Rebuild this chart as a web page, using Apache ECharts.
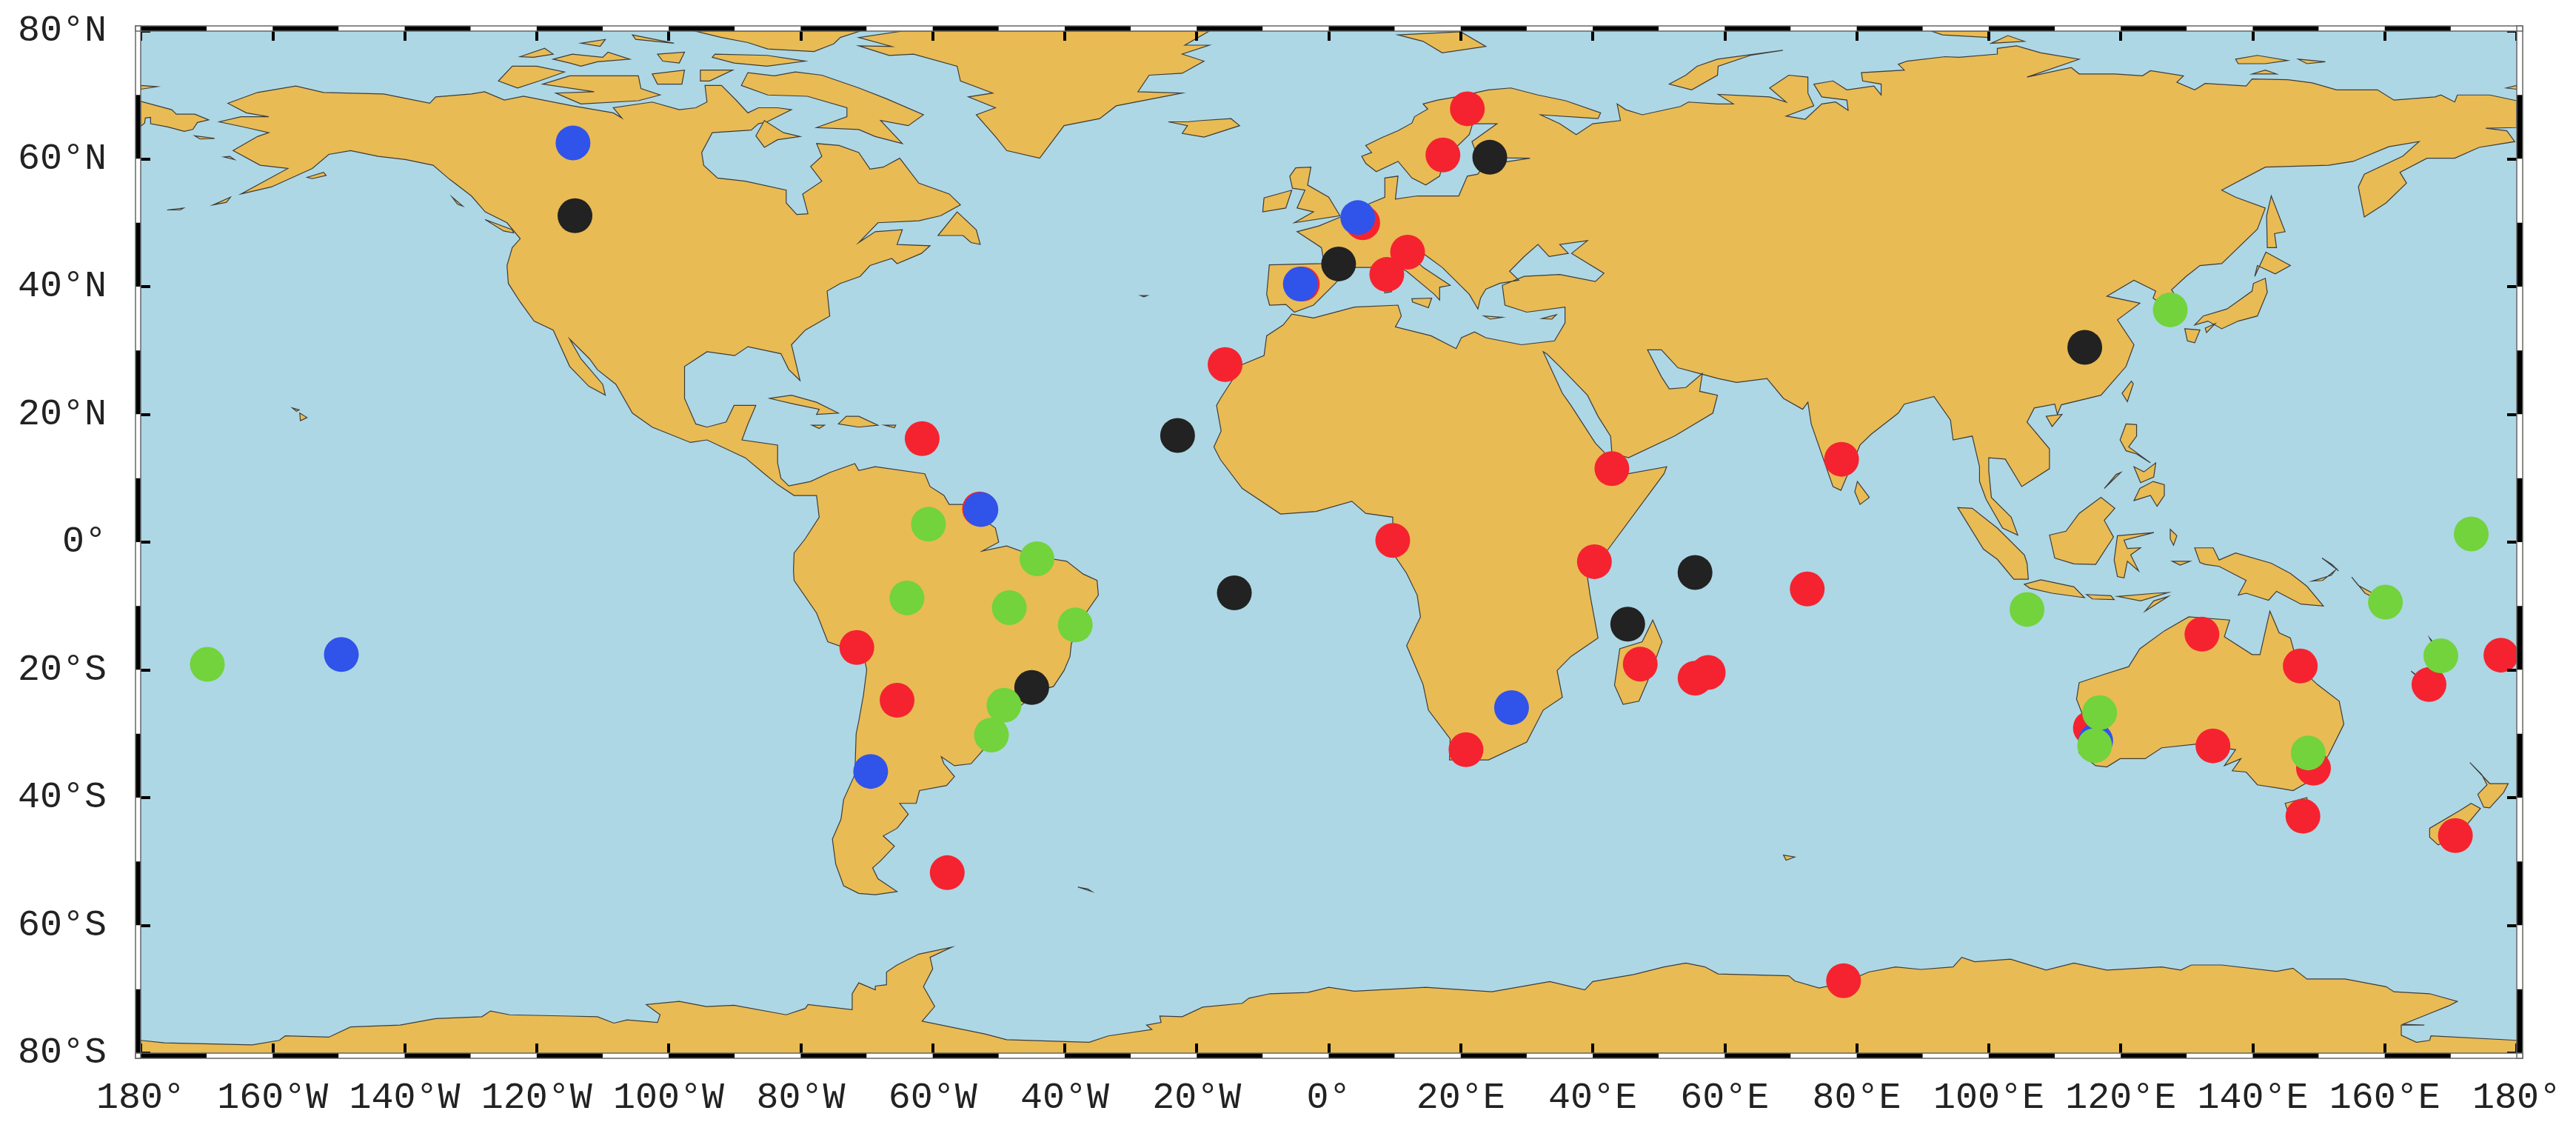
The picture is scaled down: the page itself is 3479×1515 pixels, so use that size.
<!DOCTYPE html>
<html>
<head>
<meta charset="utf-8">
<style>
  html, body { margin: 0; padding: 0; background: #fff; }
  #main { width: 3479px; height: 1515px; }
</style>
<script src="https://cdn.jsdelivr.net/npm/echarts@6/dist/echarts.min.js"></script>
</head>
<body>
<div id="main"></div>
<script>
// site positions [lon, lat]
const redSites = [[21.0,67.84],[17.3,60.6],[5.15,50.0],[11.95,45.4],[8.8,41.9],[-4.0,40.4],[-15.7,27.8],[-61.6,16.2],[42.9,11.5],[-52.9,5.2],[9.7,0.27],[-71.5,-16.5],[-65.4,-24.76],[-57.8,-51.75],[20.8,-32.5],[40.25,-3.06],[47.2,-19.1],[55.5,-21.3],[57.5,-20.4],[77.7,12.97],[72.5,-7.34],[132.3,-14.42],[147.2,-19.4],[177.6,-17.7],[166.7,-22.3],[115.4,-29.1],[133.97,-31.9],[149.2,-35.4],[147.6,-42.9],[170.7,-45.95],[78.0,-68.66]]
const blueSites = [[-114.5,62.5],[4.4,50.8],[-4.3,40.4],[-52.7,5.1],[-69.4,-35.9],[27.7,-25.9],[116.2,-31.1],[-149.6,-17.6]]
const blackSites = [[-114.2,51.1],[24.4,60.25],[1.5,43.55],[-22.9,16.7],[-14.3,-7.95],[-45,-22.76],[55.5,-4.75],[45.3,-12.85],[114.55,30.5]]
const greenSites = [[-60.65,2.8],[-44.2,-2.6],[-63.9,-8.74],[-48.4,-10.26],[-38.4,-12.96],[-49.2,-25.54],[-51.1,-30.2],[127.5,36.36],[173.1,1.28],[105.8,-10.54],[160.1,-9.4],[168.5,-17.8],[116.8,-26.7],[116.05,-31.85],[148.4,-33.0],[-169.9,-19.14]]

const lonBands = [-180,-170,-160,-150,-140,-130,-120,-110,-100,-90,-80,-70,-60,-50,-40,-30,-20,-10,0,10,20,30,40,50,60,70,80,90,100,110,120,130,140,150,160,170]
const latBands = [70,60,50,40,30,20,10,0,-10,-20,-30,-40,-50,-60,-70,-80]

// coastlines, [lon, lat]
const americas = [[-166.8,68.7],[-162.3,70.4],[-156.5,71.4],[-152.3,70.4],[-143.2,70.15],[-136.2,68.7],[-135.3,69.7],[-129.9,70.15],[-127.9,70.5],[-124.9,69.2],[-122,69.8],[-114.6,68.3],[-108.4,67.2],[-107.1,66.4],[-108.4,68],[-102.5,68.9],[-98.4,67.7],[-95.9,68],[-94.2,68.9],[-94.5,71.5],[-92,71.5],[-89.7,69.1],[-88,67.2],[-86.4,68],[-83.5,68],[-81.4,67.7],[-85.1,65.8],[-86.4,65.5],[-87.5,64.5],[-93.4,64.1],[-95,61],[-94.7,59],[-92.6,57],[-88.4,56.5],[-82.2,55.1],[-82.2,53.1],[-80.6,51.3],[-78.9,51.4],[-79.7,54.5],[-76.8,56.5],[-78.5,58.8],[-76.8,60.4],[-77.6,62.4],[-74.2,62.1],[-71.2,61],[-69.5,58.4],[-67.5,58.7],[-65,60.1],[-62.1,56.2],[-57.5,54.5],[-55.8,52.8],[-58.8,51.1],[-62.1,50.3],[-68.3,50],[-71.2,46.9],[-68.7,48.6],[-64.6,48.9],[-65.4,46.6],[-60.4,46.4],[-61.7,45.2],[-65.4,43.6],[-66.2,44.4],[-69.5,43.3],[-71,41.6],[-74,40.5],[-76,39.3],[-75.6,35.4],[-79.3,33.2],[-81.4,30.9],[-80.1,25.3],[-81.8,27],[-83,29.5],[-88,30.6],[-90,29.2],[-94.2,29.8],[-97.6,27.5],[-97.6,22.5],[-95.9,18.5],[-94.2,18],[-91.3,18.8],[-90.1,21.4],[-86.8,21.4],[-88,18.5],[-88.9,16],[-83.5,15.2],[-83.5,12.4],[-83,10],[-81.8,8.8],[-78.5,9.5],[-75.6,10.9],[-71.8,12.3],[-71.2,11.2],[-68.7,11.8],[-61.2,10.7],[-60.4,8.7],[-58.3,7.3],[-57.5,5.9],[-55.4,5.9],[-50.5,2.2],[-50,0],[-52.5,-1.4],[-48.8,-0.6],[-44.5,-2.2],[-39.7,-3],[-37.2,-5],[-35.1,-6],[-34.9,-8.3],[-36.8,-11.1],[-39,-15.9],[-39.2,-17.9],[-40.1,-20.1],[-41.7,-22.6],[-43.8,-23.2],[-48.8,-27.4],[-52.5,-32.7],[-54.2,-34.7],[-56.7,-35],[-58.7,-33.6],[-58.3,-34.7],[-56.7,-36.7],[-57.9,-38.1],[-62,-38.9],[-62.5,-40.9],[-65,-40.9],[-63.7,-42.6],[-65.4,-44.8],[-67.5,-46],[-65.8,-47.6],[-67.9,-49.9],[-69.1,-51],[-68.3,-52.7],[-65.4,-54.7],[-68.7,-55.2],[-71.2,-55],[-73.5,-53.8],[-74.7,-50.4],[-75.2,-46.5],[-73.9,-43.4],[-73.5,-40.3],[-71.8,-36.4],[-71.6,-30],[-71.2,-28],[-70.5,-24],[-70,-20],[-70.4,-18],[-71.5,-17.2],[-75.9,-15.6],[-77.6,-11.1],[-81,-6],[-81.1,-4.4],[-81,-1.7],[-79.3,0.55],[-77.2,3.9],[-77.6,7.3],[-81,7.3],[-83.5,9],[-85.5,10.7],[-88.4,13.2],[-94.2,16],[-96.7,15.6],[-102.5,18],[-105.5,20.2],[-108,24.7],[-110.8,27],[-112,28.7],[-115,31.8],[-113.3,28.7],[-110,24.7],[-109.6,23],[-112.1,24.4],[-115,27.5],[-117.5,33.2],[-120.4,34.6],[-122.5,37.6],[-124.3,40.5],[-124.5,43.3],[-123.7,46.1],[-122.5,47.5],[-124.5,50],[-127.8,51.7],[-129.9,54.2],[-133.2,56.8],[-135.7,59],[-139.9,59.9],[-144,60.4],[-148.2,61.3],[-151.5,60.7],[-154,58.5],[-160.2,55.6],[-164.8,54.5],[-157.7,58.5],[-161.9,59],[-166,61.3],[-162.3,63.5],[-160.6,64.1],[-164,64.9],[-168.1,65.8],[-164.8,66.6],[-160.6,66.6],[-164,67.2]]
const afroEurasia = [[180,69.1],[175.9,70],[171,70],[170.6,68.9],[168.5,70],[167.6,69.7],[161.4,69.2],[158.9,70.8],[152.7,70.8],[149,71.9],[145.3,72.4],[139.9,72.5],[139,71.4],[132.8,71.8],[131.2,70.8],[128.5,72],[129.5,73],[124.5,73.8],[123.3,73],[119.1,73.3],[113.7,73.3],[112.5,74.3],[105.8,72.8],[113.7,75.6],[107.9,76.6],[104.2,77.7],[101.3,77.3],[101.3,76.4],[95.5,75.9],[93.4,76],[87.6,75.3],[86.3,74.8],[87.2,73.9],[80.7,73.5],[80.9,72.2],[83.7,71.7],[83.7,70],[82.6,71.4],[78.5,70.8],[76.4,72.2],[73.5,71.7],[74.7,69.7],[78.5,69.2],[78.7,67.6],[76.8,68.9],[74.7,68.6],[72.2,66.2],[69.3,66.7],[73.5,68.3],[72.6,70.3],[72.6,72.8],[69.7,73.1],[66.8,71.1],[69.3,68.9],[66.8,69.7],[59,70.1],[61.3,68.6],[58.9,68.6],[54.5,68.9],[53.3,68.2],[47.5,66.9],[45,67.7],[43.7,68.6],[44.2,66],[40,65.5],[37.5,63.8],[35,65.5],[32.1,66.9],[40.8,66.3],[41.2,67.2],[35.9,69.1],[31.7,70],[27.6,71.1],[24.2,70.8],[19.3,69.7],[16.5,69.2],[14.3,68.6],[15,67.8],[13,66.6],[12.6,65.6],[10.5,64.4],[8,63.3],[5.6,62.1],[6.5,61],[5,60.4],[5.6,59.3],[7.2,58],[10.5,59.6],[12.6,57],[14.7,55.9],[16.8,57.3],[17.5,60],[21.3,63.8],[21.8,65.5],[25.5,65.5],[21.7,62.7],[22.6,60.2],[30.5,60.1],[23.5,59],[22.6,57.6],[21,57.3],[19.7,54.2],[13.4,54.2],[10.1,53.7],[10.5,57.3],[8.5,57],[8.5,54],[6.4,53.1],[1.8,50.9],[-1.5,49.5],[-4.8,48.6],[-1.1,46.1],[-0.7,43.6],[-9,43.4],[-9.4,38.8],[-8.96,37.1],[-6.5,37.2],[-5.2,36],[-2.3,37.1],[1,40.5],[3,43],[6.4,43],[8.8,44.1],[11.8,42.4],[16,38.8],[16.8,37.9],[16.8,39.9],[18.4,40.2],[14.3,43],[12.3,45],[14.3,45.2],[17.2,43],[21.3,38.8],[22.6,36.5],[23,38.2],[23.8,39.6],[25.9,40.5],[28.8,41],[27.4,42.4],[29.6,44.7],[31.7,46.6],[33.4,44.7],[36.3,45.2],[35,46.6],[39.2,47.2],[36.8,45.2],[41.7,42.1],[40.4,40.8],[35,41.9],[29.6,41.6],[26.3,40.2],[26.7,37.1],[30,36],[35.8,36.8],[35.8,34.3],[34.2,31.5],[29.2,30.9],[23.8,32],[22.1,32.9],[20.1,32],[19.3,30.3],[15.5,32.3],[10.1,33.7],[11,35.4],[10.5,37.1],[3.9,36.8],[-2.3,35.1],[-5.6,35.7],[-6.9,34],[-9.4,32.3],[-9.8,29.2],[-13.1,27.8],[-16.4,22.5],[-17,21.4],[-16.3,17.4],[-17.4,14.9],[-16.4,12.9],[-13.1,8.4],[-7.3,4.4],[-1.9,4.8],[3.5,6.4],[5.6,4.5],[9.7,3.9],[9.7,-1.7],[11.8,-4.9],[13.4,-8.3],[13.9,-11.7],[11.8,-16.2],[14.3,-22.3],[15.1,-26.3],[18.4,-30.8],[18.3,-34.1],[24.2,-34.1],[30,-31.3],[32.5,-26.3],[35.4,-24.3],[34.6,-20.1],[36.7,-17.9],[40.8,-15],[39.6,-8.3],[39.2,-5.5],[42.5,-0.9],[50.8,10.7],[51.2,11.8],[45.4,10.7],[43.3,12.4],[40.4,15.5],[39.2,17.4],[36.7,21.4],[35.4,23.3],[32.5,29.8],[33,29.5],[35,27.5],[39.2,23],[40.8,19.7],[42.7,16.6],[42.9,14],[45.4,13.2],[52.4,16.6],[58.2,20.2],[58.9,23],[56.2,23.6],[56.6,26.4],[54.1,24.2],[51.6,24],[50.4,25.9],[48.3,30.1],[50.4,30.1],[52.9,27.3],[56.2,26.4],[59,25.6],[61.8,25],[66.4,25.6],[68.9,22.5],[71.8,20.8],[72.6,21.9],[73.1,18.5],[76.4,8.7],[77.6,8.1],[80.5,15.2],[82.2,16.9],[86.3,20.2],[87.2,21.6],[91.7,22.8],[94.2,19.1],[94.6,16],[97.5,16.6],[98.6,11.8],[98.6,9.5],[99.6,6.7],[102.1,2.2],[104.4,1.1],[103.4,3.9],[100.4,7],[100,11.2],[100,13.2],[102.5,13],[105,8.7],[109.2,11.5],[109.2,14.6],[105.8,18.8],[106.9,21],[110,21.6],[110.4,20],[111,21.5],[117,23],[120.8,27.5],[122,30.9],[119.5,34.8],[122.9,37.4],[117.9,38.5],[122,41],[125.3,39.3],[124.9,38.2],[126.5,37],[126.3,34.7],[127.5,34.6],[129.3,35.3],[129.4,36.8],[127.7,39.5],[129.9,41.6],[132,43.3],[135.3,43.6],[140.7,49],[141.9,52.3],[137.4,54],[135.3,55.1],[141.9,58.7],[151.5,59],[155.2,59.6],[160.6,61.9],[165.2,62.7],[162.7,60.4],[156.9,57.6],[156,55.6],[156.9,50.9],[160.2,53.1],[163.3,56.2],[162.3,57.9],[166.4,60.1],[170.6,60.1],[174.3,61.8],[179.7,62.7],[178.5,64.4],[175.3,64.8],[180,64.9]]
const chukotkaWest = [[-180,69],[-175.3,67.7],[-174.6,67],[-171.8,67],[-169.7,66.1],[-171.4,65.7],[-172.1,64.6],[-173.4,64.3],[-175.9,65],[-178.5,65.5],[-178.5,66.5],[-179.3,66.4],[-179.4,65.6],[-180,65.1]]
const wrangelWest = [[-180,71.5],[-177.5,71.3],[-180,70.9]]
const wrangelEast = [[178.4,71.1],[180,71.5],[180,70.9]]
const greenland = [[-64.6,80],[-71.2,79],[-66.2,77.6],[-71.2,77.7],[-66.6,76.2],[-62.9,76.4],[-56.3,74.5],[-55.8,72.2],[-50.9,70.3],[-54.6,69.7],[-50.5,68],[-53.4,66.9],[-50.5,63.5],[-48.8,61.3],[-43.8,60.1],[-40.1,65.2],[-34.7,66.3],[-32.2,68.3],[-22.2,70.3],[-28.9,70.5],[-27.2,73.1],[-22.2,73.4],[-18.9,75.3],[-22.2,76.4],[-18.1,77.8],[-21.8,77.8],[-18.1,80]]
const iceland = [[-24.3,65.8],[-21.4,65.2],[-22.2,64],[-18.9,63.4],[-13.5,65.2],[-14.8,66.3],[-19.3,66],[-21.4,65.8]]
const baffin = [[-80.8,73.6],[-76.8,73.1],[-71.2,71.1],[-67,69.4],[-61.4,66.9],[-63.7,65.2],[-67.9,66],[-64.6,62.4],[-68.7,63.5],[-71.2,64.6],[-77.6,64.9],[-73,66.6],[-73,68],[-79,69.8],[-85,70],[-89,71.5],[-88,73.5],[-84,73]]
const victoriaIsland = [[-119.1,71.7],[-115,73],[-108.4,73],[-104.6,73],[-104.2,71],[-101.3,70],[-104.6,69.1],[-113.3,68.6],[-117.1,70.3],[-111.3,70.5]]
const banksIsland = [[-125.8,72.2],[-123.7,74.5],[-120,74.5],[-115.8,73.6],[-119.6,72.2],[-122.9,71.1]]
const melvilleIsland = [[-122.5,76],[-118.8,77.3],[-117.5,76.4],[-120.5,75.9]]
const parryIsland = [[-117.5,75.6],[-114.6,76.4],[-110,75.9],[-109.2,76.7],[-105.9,75.6],[-110.8,75.2],[-113.3,74.5],[-115,75]]
const princeOfWales = [[-102.5,73.3],[-97.6,73.9],[-98,71.7],[-101.7,71.7]]
const somerset = [[-95.2,73.9],[-90.3,73.9],[-93.8,72.2],[-95.2,72.2]]
const devon = [[-93,76.4],[-85.1,76.2],[-79.3,75.3],[-85.1,74.5],[-90.1,75],[-93.4,75.9]]
const bathurst = [[-101.7,76.4],[-97.6,76.7],[-98.4,75],[-100.9,75.3]]
const ellesmere = [[-96,80],[-71,80],[-74,79],[-75,78],[-78,76.8],[-85,77.2],[-88,78.2],[-92,79]]
const ellefRingnes = [[-105.5,79.4],[-99.2,78.1],[-105,78.7]]
const princePatrick = [[-113.3,78.1],[-109.6,78.7],[-110.4,77.6]]
const southampton = [[-86.8,63.6],[-85.5,66],[-82.6,64.1],[-80.1,63.5],[-83.5,63],[-85.5,61.8]]
const newfoundland = [[-59.2,48],[-56.3,51.7],[-53.4,48.9],[-52.8,46.6],[-54.2,46.9],[-55.4,48]]
const cuba = [[-84.7,22.5],[-81.4,23],[-77.6,21.9],[-74.3,20.2],[-77.6,20],[-77.2,20.8],[-81,21.6],[-83.5,22.2]]
const hispaniola = [[-74.3,18.5],[-73.1,19.7],[-71.2,19.7],[-68.3,18.3],[-71.2,18]]
const jamaica = [[-78.3,18.3],[-76.4,18.3],[-77.2,17.8]]
const puertoRico = [[-67.3,18.3],[-65.6,18.3],[-65.8,17.9]]
const hawaii = [[-155.9,20.2],[-154.8,19.5],[-155.8,19]]
const maui = [[-157,21],[-156,20.7],[-156.4,20.5]]
const vancouverIsland = [[-127.8,50.5],[-123.7,48.9],[-123.5,48.4],[-125,48.7]]
const haidaGwaii = [[-132.8,54],[-131.2,52.6],[-132,52.9]]
const kodiak = [[-154.8,57.1],[-152.3,57.9],[-151.9,57.4],[-154,56.9]]
const aleutianA = [[-169,52.8],[-166.4,54],[-167,53.2]]
const aleutianB = [[-176,52],[-173.5,52.3],[-174,52]]
const stLawrence = [[-171.8,63.6],[-168.8,63.2],[-171,63.1]]
const nunivak = [[-167.4,60.3],[-165.8,59.9],[-166.5,60.4]]
const greatBritain = [[-5.9,57.3],[-5,58.6],[-2.7,58.7],[-3.2,55.9],[0,54],[1.7,51.1],[-5.2,50],[-2.3,51.7],[-4.8,52.3],[-3.6,55.1],[-5.5,55.4]]
const ireland = [[-10,51.7],[-9.8,53.9],[-5.6,55.1],[-6.5,52.3]]
const sardinia = [[8.3,41],[9.7,41],[9.5,39.2],[8.5,39]]
const sicily = [[12.6,38.1],[15.6,38.2],[15.1,36.7],[12.7,37.6]]
const crete = [[23.5,35.4],[26.3,35.2],[24.5,34.9]]
const cyprus = [[32.3,35],[34.5,35.6],[33.8,34.9]]
const svalbard = [[10.5,79.4],[20,79.9],[23.8,77.6],[17.2,76.6],[14.3,78.4]]
const novayaZemlya = [[51.6,71.7],[54.1,73.1],[55.8,74.5],[58.9,75.6],[68.8,77],[63.9,76.2],[59,74.5],[58.9,73.1],[55,70.8]]
const severnayaA = [[91.3,80],[100,80],[100,79],[93,79.4]]
const severnayaB = [[100.4,78.1],[102.9,79.3],[105.4,78.4]]
const newSiberianA = [[137.4,75.6],[140.7,76.2],[145.3,75.4],[141.9,74.9],[137.8,74.9]]
const newSiberianB = [[146.9,75.6],[151,75.2],[148.2,74.9]]
const lyakhov = [[139.9,73.3],[143.6,73.3],[141.9,73.9]]
const sakhalin = [[142.8,54.2],[144.9,48.6],[143.3,48.3],[143.6,46.1],[142.2,46.1],[142.1,51.1]]
const hokkaido = [[142,45.4],[145.7,43.3],[143.4,42],[140.7,43.3],[140.3,41.6]]
const honshu = [[140.1,40.5],[141.9,41.3],[142.2,39.1],[140.7,35.4],[137.8,34.6],[135.3,33.4],[133.2,34.6],[131.2,34],[132.5,35.4],[136.1,36.5],[139.9,39.3]]
const shikoku = [[132.8,33.5],[134.3,34.2],[133,32.8]]
const kyushu = [[129.7,33.4],[132,33.2],[131.2,31.2],[130.1,31.5]]
const taiwan = [[121.6,25.2],[121.9,24.8],[121,22],[120.2,23.3]]
const hainan = [[108.7,19.7],[111.1,20],[109.6,18.1]]
const sriLanka = [[80.1,9.5],[81.9,7],[80.5,5.9],[79.7,7.9]]
const luzon = [[120.8,18.5],[122.4,18.4],[122.4,16.6],[121.2,14.9],[124.5,12.4],[122.4,13.8],[120.8,14.3],[119.9,16]]
const mindanao = [[124.9,9.5],[126.6,9],[126.6,7.3],[125.5,5.6],[124.5,7.3],[122,6.5],[122.9,8.4]]
const visayas = [[122,11.8],[123.5,11],[125.3,12.4],[125,10.2],[123,9.3]]
const palawan = [[117.5,8.4],[120,10.9],[119.3,10.6]]
const borneo = [[109.2,1.1],[111.7,1.7],[113.7,4.5],[117,7],[119.1,5.3],[117.5,3.4],[118.9,0.8],[116.2,-3.5],[112.9,-3.4],[110,-2.5]]
const sumatra = [[95.3,5.4],[97.5,5.3],[101.3,2.2],[105.4,-2],[105.8,-3.3],[106,-5.8],[103.8,-5.8],[101.3,-2.7],[99.2,-1.1]]
const java = [[105.4,-6.6],[107.9,-5.9],[112.9,-7],[114.5,-8.7],[109.6,-8],[106.2,-7.2]]
const sundaA = [[114.8,-8.2],[118.5,-8.4],[119,-9],[115.7,-8.9]]
const sundaB = [[119.5,-8.5],[125.3,-8],[127.2,-7.9],[123,-9.2]]
const timor = [[123.7,-10.8],[127.2,-8.5],[125,-9.2]]
const sulawesi = [[119.5,1],[125,1.5],[120.5,0.3],[121,-1],[123,-0.9],[121.5,-2],[122.7,-4.5],[121,-3],[120.5,-5.6],[119.5,-5.4],[119,-2.8]]
const halmahera = [[127.5,2],[128.5,1],[128,-0.5],[127.5,0.5]]
const seram = [[127.8,-3],[130.5,-3],[129,-3.6]]
const newGuinea = [[131.2,-0.9],[134,-0.9],[134.9,-2.8],[137.4,-1.7],[142.8,-3.3],[145.7,-4.9],[148.2,-6.9],[150.7,-10],[147.3,-9.7],[143.6,-7.7],[142.4,-9.1],[139,-8],[137.8,-8.3],[139,-6],[134.9,-3.8],[132.8,-3.5],[132,-3.2]]
const newBritain = [[149,-6.1],[151.9,-5.2],[152.5,-4.4],[150.6,-6]]
const newIreland = [[150.5,-2.5],[153,-4.5],[152,-3.5]]
const solomon = [[155,-5.5],[156,-6.8],[160,-9],[161,-10],[157,-8]]
const vanuatu = [[166.8,-15],[167.5,-16.5],[167.2,-15.5]]
const newCaledonia = [[164,-20.2],[167,-22.5],[166,-22]]
const fiji = [[177.5,-17.5],[178.5,-18],[177.5,-18.2]]
const australia = [[113.7,-22],[117.5,-20.7],[121.2,-19.5],[122.9,-16.7],[126.6,-13.9],[130.3,-11.7],[136.5,-12.2],[135.7,-14.8],[139.9,-17.6],[141.1,-17.6],[142.6,-10.8],[144,-14.2],[145.7,-15],[146.9,-19.5],[149.8,-22.3],[153.1,-24.9],[153.8,-28.5],[151.5,-33.3],[149,-37.2],[146.1,-38.9],[144.4,-38.6],[140.7,-38],[139,-36],[136.9,-35.8],[138.2,-33.9],[135.7,-35],[137.4,-32.5],[131.6,-31.6],[126.2,-32.2],[123.7,-33.9],[119.9,-33.9],[117.9,-35.2],[116.2,-35],[113.7,-33],[114.6,-28],[113.3,-24.6]]
const tasmania = [[144.9,-40.9],[148.2,-40],[148.6,-43.1],[146.1,-44.3]]
const nzNorth = [[172.9,-34.5],[175.9,-37.8],[178.7,-37.8],[178,-39.2],[175.9,-41.6],[175,-41.5],[174.1,-39.5],[175.5,-38],[174.7,-36.4]]
const nzSouth = [[173.1,-40.9],[174.5,-41.7],[171,-46],[168.1,-47.4],[166.8,-46.2],[166.8,-44.8],[171.4,-42]]
const madagascar = [[49.1,-12.2],[50.5,-15.6],[48.3,-21.8],[47,-24.9],[44.6,-25.4],[43.3,-22.4],[44.1,-16.7],[47.5,-15.6]]
const southGeorgia = [[-38,-54],[-35.9,-54.7],[-36.5,-54.3]]
const kerguelen = [[68.9,-49],[70.6,-49.3],[69.3,-49.8]]
const azores = [[-28.5,38.6],[-27.5,38.6],[-28,38.4]]
const antarctica = [[-180,-78],[-176.4,-78.4],[-163.1,-78.7],[-159,-78],[-158.1,-77.3],[-151.5,-77.5],[-148.2,-75.9],[-140.7,-75.6],[-135.3,-74.6],[-128.3,-74.3],[-127,-73.4],[-124.1,-74],[-115,-74.2],[-110.8,-74.3],[-108.3,-75.3],[-106.3,-74.8],[-101.7,-75.2],[-101.3,-74],[-103.4,-72.4],[-98.4,-71.9],[-94.3,-72.7],[-90.1,-72.5],[-82.2,-74],[-79.3,-73],[-78.9,-72.4],[-72.2,-73.2],[-72.2,-70.7],[-71.2,-69],[-68.7,-70.1],[-68.7,-69.5],[-67,-69.3],[-67,-67.3],[-65.4,-66.2],[-62.1,-64.5],[-57.1,-63.4],[-60.4,-65],[-60,-66.8],[-61.4,-69.6],[-59.7,-72.7],[-61.6,-75],[-52.1,-77],[-48.8,-77.9],[-36.3,-78.3],[-33.4,-77.3],[-26.8,-76.3],[-27.6,-75.6],[-25.4,-75.2],[-25.6,-74.2],[-22.2,-74.3],[-19.1,-72.8],[-13.1,-72.2],[-12.1,-71.4],[-8.9,-70.7],[-3.2,-70.5],[0,-69.7],[3.9,-70.3],[14.7,-69.7],[24.7,-70.4],[33.5,-68.8],[38.8,-70.1],[40,-68.8],[46.2,-67.7],[50.8,-66.5],[54.1,-65.9],[57,-66.5],[59,-67.6],[69.7,-67.9],[70.6,-68.7],[74.3,-69.8],[78,-69],[81.8,-67.3],[85.9,-66.5],[89.7,-66.9],[94.6,-66.5],[95.9,-65],[97.9,-65.7],[103.3,-65.3],[108.7,-67],[112.9,-65.9],[117.9,-67],[126.2,-66.5],[129.1,-67],[130.7,-66.2],[135.3,-66.2],[143.6,-67.2],[146.1,-66.7],[148.2,-68.4],[154,-68.4],[160.2,-69.6],[161.4,-70.4],[166.8,-70.7],[171,-71.9],[169.7,-72.6],[166.8,-73.8],[162.7,-75.5],[166,-75.6],[162.5,-75.6],[162.5,-77.2],[164.8,-78.3],[166.8,-78],[167,-77.3],[180,-78],[180,-81],[-180,-81]]

const landPolygons = [americas, afroEurasia, chukotkaWest, wrangelWest, wrangelEast, greenland, iceland, baffin, victoriaIsland, banksIsland, melvilleIsland, parryIsland, princeOfWales, somerset, devon, bathurst, ellesmere, ellefRingnes, princePatrick, southampton, newfoundland, cuba, hispaniola, jamaica, puertoRico, hawaii, maui, vancouverIsland, haidaGwaii, kodiak, aleutianA, aleutianB, stLawrence, nunivak, greatBritain, ireland, sardinia, sicily, crete, cyprus, svalbard, novayaZemlya, severnayaA, severnayaB, newSiberianA, newSiberianB, lyakhov, sakhalin, hokkaido, honshu, shikoku, kyushu, taiwan, hainan, sriLanka, luzon, mindanao, visayas, palawan, borneo, sumatra, java, sundaA, sundaB, timor, sulawesi, halmahera, seram, newGuinea, newBritain, newIreland, solomon, vanuatu, newCaledonia, fiji, australia, tasmania, nzNorth, nzSouth, madagascar, southGeorgia, kerguelen, azores, antarctica]

const myChart = echarts.init(document.getElementById('main'))

function lonLabel(v) {
  if (v === 0 || Math.abs(v) === 180) return Math.abs(v) + '°'
  return Math.abs(v) + '°' + (v < 0 ? 'W' : 'E')
}
function latLabel(v) {
  if (v === 0) return '0°'
  return Math.abs(v) + '°' + (v < 0 ? 'S' : 'N')
}

const tickLine = { show: true, inside: true, length: 13, lineStyle: { color: '#000', width: 4 } }
const labelFont = { fontFamily: 'Liberation Mono', fontSize: 50, color: '#222', lineHeight: 50 }

function lonAxis(position, showLabel) {
  return {
    type: 'value', position, min: -180, max: 180, interval: 20, z: 5,
    axisLine: { show: false, onZero: false }, splitLine: { show: false }, axisTick: tickLine,
    axisLabel: { show: showLabel, margin: 36, formatter: lonLabel, showMinLabel: true, showMaxLabel: true, ...labelFont }
  }
}
function latAxis(position, showLabel) {
  return {
    type: 'value', position, min: -80, max: 80, interval: 20, z: 5,
    axisLine: { show: false, onZero: false }, splitLine: { show: false }, axisTick: tickLine,
    axisLabel: { show: showLabel, margin: 46, formatter: latLabel, showMinLabel: true, showMaxLabel: true, ...labelFont }
  }
}

// the checkered frame sits outside the plot area
const frameWidth = 7
function bandColor(index, firstBlack) {
  return (index % 2 === 0) === firstBlack ? '#000' : '#fff'
}
function renderLonBand(params, api) {
  const a = api.coord([api.value(0), 80])
  const b = api.coord([api.value(0) + 10, -80])
  const fill = bandColor(params.dataIndex, true)
  return {
    type: 'group',
    children: [
      { type: 'rect', shape: { x: a[0], y: a[1] - frameWidth, width: b[0] - a[0], height: frameWidth }, style: { fill } },
      { type: 'rect', shape: { x: a[0], y: b[1], width: b[0] - a[0], height: frameWidth }, style: { fill } }
    ]
  }
}
function renderLatBand(params, api) {
  const a = api.coord([-180, api.value(1) + 10])
  const b = api.coord([180, api.value(1)])
  const fill = bandColor(params.dataIndex, false)
  return {
    type: 'group',
    children: [
      { type: 'rect', shape: { x: a[0] - frameWidth, y: a[1], width: frameWidth, height: b[1] - a[1] }, style: { fill } },
      { type: 'rect', shape: { x: b[0], y: a[1], width: frameWidth + 1, height: b[1] - a[1] }, style: { fill } }
    ]
  }
}
function renderOutline(params, api) {
  const a = api.coord([-180, 80])
  const b = api.coord([180, -80])
  const stroke = '#666'
  const box = (x, y, w, h, fill) => ({ type: 'rect', shape: { x, y, width: w, height: h }, style: { fill, stroke, lineWidth: 1.5 } })
  return {
    type: 'group',
    children: [
      box(a[0] - frameWidth, a[1] - frameWidth, b[0] - a[0] + 2 * frameWidth + 1, b[1] - a[1] + 2 * frameWidth, 'transparent'),
      box(a[0], a[1], b[0] - a[0], b[1] - a[1], 'transparent'),
      box(a[0] - frameWidth, a[1] - frameWidth, frameWidth, frameWidth, '#fff'),
      box(b[0], a[1] - frameWidth, frameWidth + 1, frameWidth, '#fff'),
      box(a[0] - frameWidth, b[1], frameWidth, frameWidth, '#fff'),
      box(b[0], b[1], frameWidth + 1, frameWidth, '#fff')
    ]
  }
}
function renderLand(params, api) {
  const points = landPolygons[params.dataIndex].map(p => api.coord(p))
  return {
    type: 'polygon',
    shape: { points },
    style: { fill: '#e9bb54', stroke: '#3c3c3c', lineWidth: 1.2 }
  }
}
function sites(name, data, color, z) {
  return { name, type: 'scatter', data, symbol: 'circle', symbolSize: 47, itemStyle: { color, opacity: 1 }, z, silent: true }
}

myChart.setOption({
  animation: false,
  backgroundColor: '#fff',
  grid: { left: 190, right: 80, top: 42, bottom: 93, show: true, backgroundColor: '#add7e5', borderWidth: 0 },
  xAxis: [lonAxis('bottom', true), lonAxis('top', false)],
  yAxis: [latAxis('left', true), latAxis('right', false)],
  series: [
    { name: 'land', type: 'custom', renderItem: renderLand, clip: true, z: 1, silent: true, data: landPolygons.map(p => p[0]) },
    sites('red', redSites, '#f5232f', 2),
    sites('blue', blueSites, '#3053ea', 3),
    sites('black', blackSites, '#222222', 4),
    sites('green', greenSites, '#72d33c', 4),
    { name: 'frameLon', type: 'custom', renderItem: renderLonBand, clip: false, z: 6, silent: true, data: lonBands.map(v => [v, 80]) },
    { name: 'frameLat', type: 'custom', renderItem: renderLatBand, clip: false, z: 6, silent: true, data: latBands.map(v => [-180, v]) },
    { name: 'frameLines', type: 'custom', renderItem: renderOutline, clip: false, z: 7, silent: true, data: [[-180, 80]] }
  ]
})
</script>
</body>
</html>
